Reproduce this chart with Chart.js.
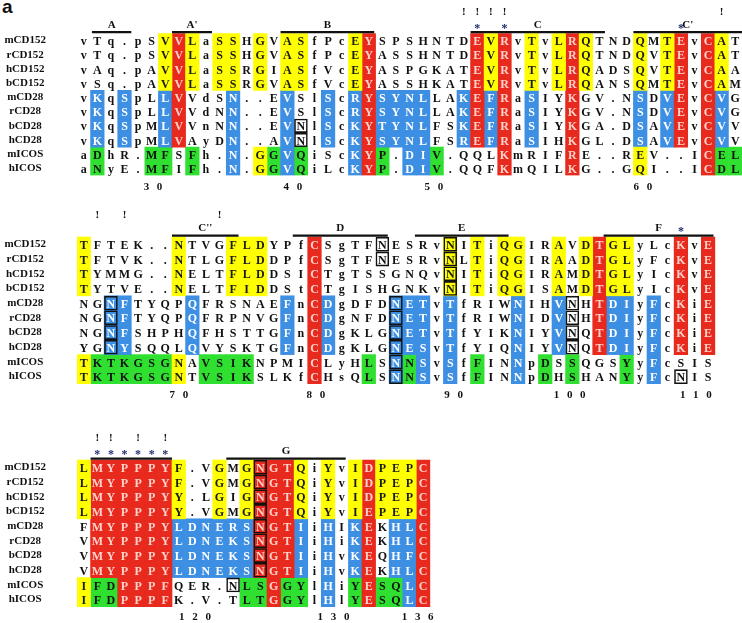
<!DOCTYPE html>
<html>
<head>
<meta charset="utf-8">
<title>CD152 / CD28 / ICOS alignment</title>
<script src="https://cdn.jsdelivr.net/npm/chart.js@4.4.1/dist/chart.umd.min.js"></script>
<style>
  html, body { margin: 0; padding: 0; background: #fff; }
  #page { position: relative; width: 742px; height: 623px; overflow: hidden; }
  #page canvas { position: absolute; left: 0; }
  #panel { position: absolute; left: 2px; top: -3px; font: bold 19px 'Liberation Sans', Arial, sans-serif; line-height: 19px; color: #111; }
</style>
</head>
<body>
<div id="page">
  <div id="panel">a</div>
  <canvas id="block1"></canvas>
  <canvas id="block2"></canvas>
  <canvas id="block3"></canvas>
</div>
<script>
// Row names, and which shading line each row follows (0 = CD152, 1 = CD28, 2 = ICOS)
const rowNames = ['mCD152', 'rCD152', 'hCD152', 'bCD152', 'mCD28', 'rCD28', 'bCD28', 'hCD28', 'mICOS', 'hICOS'];
const rowFamily = [0, 0, 0, 0, 1, 1, 1, 1, 2, 2];

// ---- Block 1
const seq1 = [
  'vTq.pSVVLaSSHGVASfPcEYSPSHNTDEVRvTvLRQTNDQMTEvCAT',
  'vTq.pSVVLaSSHGVASfPcEYASSHNTDEVRvTvLRQTNDQVTEvCAT',
  'vAq.pAVVLaSSRGIASfVcEYASPGKATEVRvTvLRQADSQVTEvCAA',
  'vSq.pAVVLaSSRGVASfVcEYASSHKATEVRvTvLRQANSQMTEvCAM',
  'vKqSpLLVVdSN..EVSlScRYSYNLLAKEFRaSIYKGV.NSDVEvCVG',
  'vKqSpLLVVdNN..EVSlScRYSYNLLAKEFRaSIYKGV.NSDVEvCVG',
  'vKqSpMLVVnNN..EVNlScKYTYNLFSKEFRaSIYKGA.DSAVEvCVV',
  'vKqSpMLVAyDN..AVNlScKYSYNLFSREFRaSIHKGL.DSAVEvCVV',
  'aDhR.MFSFh.N.GGVQiScKYP.DIV.QQLKmRIFRE..REV..ICEL',
  'aNyE.MFIFh.N.GGVQiLcKYP.DIV.QQFKmQILKG..GQI..ICDL'
];
const shade1 = [
  '------YRY-YY-Y-YY---YR-------RYR-Y-YRY---Y-YR-RY-',
  '-B-B--BR---B---B--B-BRBBBB--BRBR-B--R----B-BR-RB-',
  '-G---GG-G--B-YGBG---BRG-BBG----R----R----Y----RGG'
];
const boxes1 = [[17, 6, 7]];                 // [column, first row, last row]
const bangs1 = [29, 30, 31, 32, 48];
const stars1 = [30, 32, 45];
const strands1 = [['A', 1.6, 4.5], ["A'", 7.5, 10.45], ['B', 15.5, 22.4], ['C', 29.5, 39.4], ["C'", 41.5, 49.5]];
const numCols1 = [6.1, 16.4, 26.8, 42.2];
const numLabels1 = ['3 0', '4 0', '5 0', '6 0'];

// ---- Block 2
const seq2 = [
  'TFTEK..NTVGFLDYPfCSgTFNESRvNITiQGIRAVDTGLyLcKvE',
  'TFTVK..NTLGFLDDPfCSgTFNESRvNLTiQGIRAADTGLyFcKvE',
  'TYMMG..NELTFLDDSICTgTSSGNQvNITiQGIRAMDTGLyIcKvE',
  'TYTVE..NELTFIDDStCTgISHGNKvNITiQGISAMDTGLyIcKvE',
  'NGNFTYQPQFRSNAEFnCDgDFDNETvTfRIWNIHVNHTDIyFcKiE',
  'NGNFTYQPQFRPNVGFnCDgNFDNETvTfRIWNIDVNHTDIyFcKiE',
  'NGNFSHPHQFHSTTGFnCDgKLGNETvTfYIKNIYVNQTDIyFcKiE',
  'YGNYSQQLQVYSKTGFnCDgKLGNESvTfYIQNIYVNQTDIyFcKiE',
  'TKTKGSGNAVSIKNPMICLyHLSNNSvSfFINNpDSSQGSYyFcSIS',
  'TKTKGSGNTVSIKSLKfCHsQLSNNSvSfFINNpDHSHANYyFcNIS'
];
const shade2 = [
  'Y------Y---YYY---R---------Y-Y-YY--Y-YRYY---R-R',
  '--BB----B------B-RB----BBB-B----B--B--RBB-B-R-R',
  'YGGGGGGY-GGGG----R---G-BGB-B-G--B-G-G---G-B----'
];
const boxes2 = [[3, 4, 7], [23, 0, 1], [24, 4, 9], [28, 0, 3], [37, 4, 7], [45, 9, 9]];
const bangs2 = [2, 4, 11];
const stars2 = [45];
const strands2 = [["C''", 7.5, 12.4], ['D', 16.4, 23.4], ['E', 25.4, 32.3], ['F', 39.3, 47.4]];
const numCols2 = [8.0, 18.1, 28.25, 36.8, 46.1];
const numLabels2 = ['7 0', '8 0', '9 0', '1 0 0', '1 1 0'];

// ---- Block 3
const seq3 = [
  'LMYPPPYF.VGMGNGTQiYvIDPEPC',
  'LMYPPPYF.VGMGNGTQiYvIDPEPC',
  'LMYPPPYY.LGIGNGTQiYvIDPEPC',
  'LMYPPPYY.VGMGNGTQiYvIEPEPC',
  'FMYPPPYLDNERSNGTIiHIKEKHLC',
  'VMYPPPYLDNEKSNGTIiHiKEKHLC',
  'VMYPPPYLDNEKSNGTIiHvKEQHFC',
  'VMYPPPYLDNEKSNGTIiHvKEKHLC',
  'IFDPPPFQER.NLSGGYlHiYESQLC',
  'IFDPPPFK.V.TLTGGYlHlYESQLC'
];
const shade3 = [
  'YRRRRRRY--Y-YRRRY-Y-YRYYYR',
  '-RRRRRRBBBBBBRRRB-B-BR-BBR',
  'YGGRRRR-----GGRGG-B-GRGGBR'
];
const boxes3 = [[14, 0, 7], [12, 8, 8]];
const bangs3 = [2, 3, 5, 7];
const stars3 = [2, 3, 4, 5, 6, 7];
const strands3 = [['', 1.5, 7.5], ['G', 11.5, 20.3]];
const numCols3 = [9.2, 19.4, 25.6];
const numLabels3 = ['1 2 0', '1 3 0', '1 3 6'];

// ---- Styles
const SHADES = { Y: '#ffff00', R: '#e8291d', B: '#3d8fe4', G: '#30e030' };
const INK = { '-': '#111111', Y: '#1a1a1a', R: '#ffd2ca', B: '#ffffff', G: '#111111' };
const SERIF = "'Liberation Serif', 'Times New Roman', serif";
const BANG_Y = -1.5;    // rows above the first sequence row
const STAR_Y = -0.55;
const BAR_Y = -0.1;

// canvas top, first cell top, row height, tick padding, axis height (pixels)
const layouts = [
  { id: 'block1', top: 0, cellTop: 33.5, rowH: 14.2, tickPad: 5, axisH: 20.5 },
  { id: 'block2', top: 196, cellTop: 237, rowH: 14.7, tickPad: 5, axisH: 20 },
  { id: 'block3', top: 404, cellTop: 460, rowH: 14.7, tickPad: 3.5, axisH: 16 }
];

const blocks = [
  { seqs: seq1, shades: shade1, boxes: boxes1, bangs: bangs1, stars: stars1, strands: strands1, numCols: numCols1, numLabels: numLabels1 },
  { seqs: seq2, shades: shade2, boxes: boxes2, bangs: bangs2, stars: stars2, strands: strands2, numCols: numCols2, numLabels: numLabels2 },
  { seqs: seq3, shades: shade3, boxes: boxes3, bangs: bangs3, stars: stars3, strands: strands3, numCols: numCols3, numLabels: numLabels3 }
];

function shadeAt(blk, r, c) {
  return blk.shades[rowFamily[r]][c];
}

// One floating-bar dataset per colour, merging vertical runs of the same colour
function shadeDatasets(blk) {
  const nCols = blk.seqs[0].length;
  return Object.keys(SHADES).map(code => {
    const data = [];
    for (let c = 0; c < nCols; c++) {
      let start = null;
      for (let r = 0; r <= rowNames.length; r++) {
        const on = r < rowNames.length && shadeAt(blk, r, c) === code;
        if (on && start === null) start = r;
        if (!on && start !== null) {
          data.push({ x: c + 1, y: [start, r] });
          start = null;
        }
      }
    }
    return { type: 'bar', data, backgroundColor: SHADES[code], borderWidth: 0, order: 3 };
  });
}

function boxDataset(blk) {
  const data = [];
  blk.boxes.forEach(([col, r0, r1]) => {
    for (let r = r0; r <= r1; r++) data.push({ x: col, y: [r, r + 1] });
  });
  return {
    type: 'bar', data, backgroundColor: 'rgba(0,0,0,0)', borderColor: '#111',
    borderWidth: 1.6, borderSkipped: false, inflateAmount: 0, order: 2
  };
}

function strandDatasets(blk) {
  return blk.strands.map(([, s, e]) => ({
    type: 'line', data: [{ x: s, y: BAR_Y }, { x: e, y: BAR_Y }],
    borderColor: '#111', borderWidth: 2.2, pointRadius: 0, order: 1
  }));
}

// Residue letters, conservation marks and strand names
const residueLayer = {
  id: 'residueLayer',
  afterDatasetsDraw(chart, args, opts) {
    const blk = opts.block;
    if (!blk) return;
    const { ctx, scales: { x, y } } = chart;
    ctx.save();
    ctx.textAlign = 'center';
    ctx.textBaseline = 'middle';
    ctx.font = `bold 12px ${SERIF}`;
    blk.seqs.forEach((seq, r) => {
      const cy = y.getPixelForValue(r + 0.5) + 1.5;
      [...seq].forEach((ch, c) => {
        ctx.fillStyle = INK[shadeAt(blk, r, c)];
        ctx.fillText(ch, x.getPixelForValue(c + 1), cy);
      });
    });

    ctx.fillStyle = '#111';
    ctx.font = `bold 11px ${SERIF}`;
    blk.bangs.forEach(c => ctx.fillText('!', x.getPixelForValue(c), y.getPixelForValue(BANG_Y)));

    ctx.fillStyle = '#1f2d6e';
    ctx.font = `bold 12px ${SERIF}`;
    blk.stars.forEach(c => ctx.fillText('*', x.getPixelForValue(c), y.getPixelForValue(STAR_Y) + 3));

    ctx.fillStyle = '#111';
    ctx.font = `bold 11px ${SERIF}`;
    ctx.textBaseline = 'bottom';
    blk.strands.forEach(([name, s, e]) => {
      if (name) ctx.fillText(name, x.getPixelForValue((s + e) / 2), y.getPixelForValue(BAR_Y) - 1.5);
    });
    ctx.restore();
  }
};

function createBlockChart(lay, blk) {
  const canvas = document.getElementById(lay.id);
  const cellBottom = lay.cellTop + rowNames.length * lay.rowH;
  const height = Math.round(cellBottom - lay.top + lay.axisH);
  canvas.width = 742;
  canvas.height = height;
  canvas.style.top = lay.top + 'px';
  canvas.style.width = '742px';
  canvas.style.height = height + 'px';

  return new Chart(canvas.getContext('2d'), {
    type: 'bar',
    data: { datasets: [...shadeDatasets(blk), boxDataset(blk), ...strandDatasets(blk)] },
    plugins: [residueLayer],
    options: {
      responsive: false,
      animation: false,
      events: [],
      layout: { padding: 0 },
      datasets: { bar: { grouped: false, barPercentage: 1, categoryPercentage: 1 } },
      plugins: {
        legend: { display: false },
        tooltip: { enabled: false },
        residueLayer: { block: blk }
      },
      scales: {
        x: {
          type: 'linear', min: 0.5, max: 49.5, offset: false,
          grid: { display: false, drawTicks: false },
          border: { display: false },
          afterBuildTicks: s => { s.ticks = blk.numCols.map(v => ({ value: v })); },
          afterFit: s => { s.height = lay.axisH; s.paddingLeft = 0; s.paddingRight = 0; },
          ticks: {
            autoSkip: false, maxRotation: 0, padding: lay.tickPad, color: '#111',
            font: { family: SERIF, size: 11, weight: 'bold' },
            callback: (v, i) => blk.numLabels[i].replace(/ /g, '\u2002\u2009')
          }
        },
        y: {
          type: 'linear', reverse: true,
          min: -(lay.cellTop - lay.top) / lay.rowH, max: rowNames.length,
          grid: { display: false, drawTicks: false },
          border: { display: false },
          afterBuildTicks: s => { s.ticks = rowNames.map((_, i) => ({ value: i + 0.5 })); },
          afterFit: s => { s.width = 77; s.paddingTop = 0; s.paddingBottom = 0; },
          ticks: {
            autoSkip: false, crossAlign: 'center', padding: 31, color: '#111',
            font: { family: SERIF, size: 11, weight: 'bold' },
            callback: (v, i) => rowNames[i]
          }
        }
      }
    }
  });
}

layouts.forEach((lay, i) => createBlockChart(lay, blocks[i]));
</script>
</body>
</html>
